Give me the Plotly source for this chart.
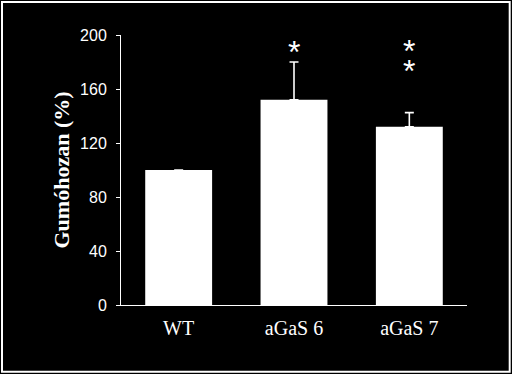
import plotly.graph_objects as go

categories = ["WT", "aGaS 6", "aGaS 7"]
values = [100, 152, 132]
errors = [float("nan"), 28, 10.5]
star_x = ["aGaS 6", "aGaS 7", "aGaS 7"]
star_y = [191, 192, 177]
y_ticks = [0, 40, 80, 120, 160, 200]

W, H = 512, 374
L, R, T, B = 121, 45, 35, 69

fig = go.Figure()
fig.add_trace(go.Bar(
    x=categories, y=values,
    marker=dict(color="white", line=dict(width=0)),
    width=0.58,
    error_y=dict(type="data", array=errors, arrayminus=[0, 0, 0], symmetric=False,
                 visible=True, color="white", thickness=1.6, width=4.5),
    showlegend=False, hoverinfo="skip",
))

for sx, sy in zip(star_x, star_y):
    fig.add_annotation(x=sx, y=sy, text="*", showarrow=False,
                       xanchor="center", yanchor="middle", yshift=-5,
                       font=dict(family="Liberation Sans, Arial", size=32, color="white"))

pw = W - L - R
ph = H - T - B
def px(x):
    return (x - L) / pw
def py(y):
    return (H - B - y) / ph

fig.add_shape(type="rect", xref="paper", yref="paper",
              x0=px(2), x1=px(509.7), y0=py(2), y1=py(371.7),
              line=dict(color="white", width=2), fillcolor="rgba(0,0,0,0)", layer="above")

fig.update_layout(
    width=W, height=H,
    margin=dict(l=L, r=R, t=T, b=B, autoexpand=False),
    paper_bgcolor="black", plot_bgcolor="black",
    xaxis=dict(
        range=[-0.5, 2.5], showline=True, linecolor="white", linewidth=1,
        showgrid=False, zeroline=False, ticks="", ticklabelstandoff=5,
        tickfont=dict(family="Liberation Serif", size=20, color="white"),
    ),
    yaxis=dict(
        range=[0, 200], tickvals=y_ticks, showline=True, linecolor="white", linewidth=1,
        showgrid=False, zeroline=False, ticks="outside", ticklen=4, tickcolor="white",
        tickwidth=1, ticklabelstandoff=6,
        tickfont=dict(family="Liberation Sans", size=16, color="white"),
        title=dict(text="Gumóhozan (%)", standoff=4,
                   font=dict(family="Liberation Serif", size=22, color="white", weight="bold")),
    ),
)

fig.write_html("out.html", config={"displayModeBar": False},
               post_script="document.body.style.margin='0';document.body.style.overflow='hidden';")
